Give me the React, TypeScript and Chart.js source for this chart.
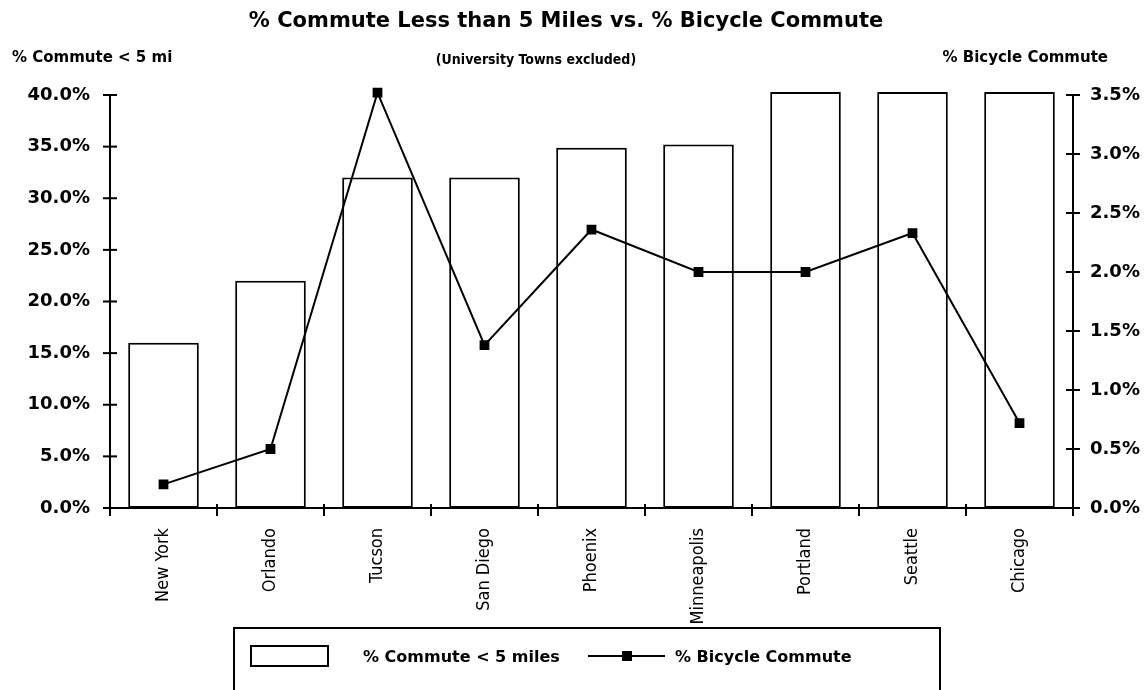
import React, { useEffect, useRef } from "react";
import { Chart, registerables } from "chart.js";

Chart.register(...registerables);

// ---- data ----
const categories = ["New York", "Orlando", "Tucson", "San Diego", "Phoenix", "Minneapolis", "Portland", "Seattle", "Chicago"];
const commuteUnder5 = [16.0, 22.0, 32.0, 32.0, 34.9, 35.2, 40.3, 40.3, 40.3];
const bicycleCommute = [0.2, 0.5, 3.52, 1.38, 2.36, 2.0, 2.0, 2.33, 0.72];
const leftAxisMax = 40;
const leftAxisStep = 5;
const rightAxisMax = 3.5;
const rightAxisStep = 0.5;

const titleText = "% Commute Less than 5 Miles vs. % Bicycle Commute";
const subtitleText = "(University Towns excluded)";
const leftAxisTitle = "% Commute < 5 mi";
const rightAxisTitle = "% Bicycle Commute";
const barLabel = "% Commute < 5 miles";
const lineLabel = "% Bicycle Commute";

const BOLD = '"DejaVu Sans", "Liberation Sans", sans-serif';
const NARROW = '"Liberation Sans Narrow", "DejaVu Sans Condensed", "Liberation Sans", sans-serif';

const decorPlugin = {
  id: "decor",
  afterDraw(chart: any) {
    const ctx = chart.ctx as CanvasRenderingContext2D;
    const { x, y, y1 } = chart.scales;
    ctx.save();
    ctx.fillStyle = "#000";
    ctx.strokeStyle = "#000";
    ctx.lineWidth = 2;

    // axis tick marks crossing the axis lines
    const drawYTicks = (scale: any, axisX: number) => {
      scale.ticks.forEach((t: any) => {
        const py = scale.getPixelForValue(t.value);
        ctx.beginPath();
        ctx.moveTo(axisX - 7, py);
        ctx.lineTo(axisX + 7, py);
        ctx.stroke();
      });
    };
    drawYTicks(y, chart.chartArea.left);
    drawYTicks(y1, chart.chartArea.right);
    for (let i = 0; i <= categories.length; i++) {
      const px = x.getPixelForValue(i - 0.5);
      ctx.beginPath();
      ctx.moveTo(px, chart.chartArea.bottom - 4);
      ctx.lineTo(px, chart.chartArea.bottom + 8);
      ctx.stroke();
    }

    // title, subtitle, axis titles
    ctx.textBaseline = "middle";
    ctx.textAlign = "center";
    ctx.font = `bold 21px ${BOLD}`;
    ctx.fillText(titleText, 566, 22);
    ctx.font = `bold 14px ${NARROW}`;
    ctx.fillText(subtitleText, 536, 60);
    ctx.font = `bold 15px ${BOLD}`;
    ctx.textAlign = "left";
    ctx.fillText(leftAxisTitle, 12, 58);
    ctx.textAlign = "right";
    ctx.fillText(rightAxisTitle, 1108, 58);

    // legend
    ctx.lineWidth = 2;
    ctx.strokeRect(234, 628, 706, 80);
    ctx.fillStyle = "#fff";
    ctx.fillRect(251, 646, 77, 20);
    ctx.strokeRect(251, 646, 77, 20);
    ctx.fillStyle = "#000";
    ctx.font = `bold 16px ${BOLD}`;
    ctx.textAlign = "left";
    ctx.fillText(chart.data.datasets[0].label, 363, 658);
    ctx.beginPath();
    ctx.moveTo(588, 656);
    ctx.lineTo(665, 656);
    ctx.stroke();
    ctx.fillRect(622, 651, 10, 10);
    ctx.fillText(chart.data.datasets[1].label, 675, 658);
    ctx.restore();
  },
};

export default function App() {
  const ref = useRef<HTMLCanvasElement | null>(null);
  useEffect(() => {
    if (!ref.current) return;
    const chart = new Chart(ref.current, {
      type: "bar",
      data: {
        labels: categories,
        datasets: [
          {
            type: "bar",
            label: barLabel,
            data: commuteUnder5,
            yAxisID: "y",
            backgroundColor: "#ffffff",
            borderColor: "#000000",
            borderWidth: 2,
            borderSkipped: false,
            categoryPercentage: 1,
            barPercentage: 0.66,
            clip: false,
            order: 2,
          } as any,
          {
            type: "line",
            label: lineLabel,
            data: bicycleCommute,
            yAxisID: "y1",
            borderColor: "#000000",
            backgroundColor: "#000000",
            borderWidth: 2,
            pointStyle: "rect",
            pointRadius: 5.5,
            pointBackgroundColor: "#000000",
            pointBorderColor: "#000000",
            tension: 0,
            clip: false,
            order: 1,
          } as any,
        ],
      },
      options: {
        animation: false,
        responsive: true,
        maintainAspectRatio: false,
        layout: { padding: { top: 95, left: 0, right: 0, bottom: 0 } },
        plugins: {
          legend: { display: false },
          title: { display: false },
          tooltip: { enabled: false },
        },
        scales: {
          x: {
            offset: true,
            grid: { display: false },
            border: { display: true, color: "#000", width: 2 },
            ticks: {
              color: "#000",
              minRotation: 90,
              maxRotation: 90,
              padding: 12,
              autoSkip: false,
              font: { family: NARROW, size: 18, weight: "normal" },
            },
            afterFit: (s: any) => {
              s.height = 182;
            },
          },
          y: {
            position: "left",
            min: 0,
            max: leftAxisMax,
            grid: { display: false },
            border: { display: true, color: "#000", width: 2 },
            ticks: {
              stepSize: leftAxisStep,
              color: "#000",
              padding: 12,
              font: { family: BOLD, size: 18, weight: "bold" },
              callback: (v: any) => Number(v).toFixed(1) + "%",
            },
            afterFit: (s: any) => {
              s.width = 110;
            },
          },
          y1: {
            position: "right",
            min: 0,
            max: rightAxisMax,
            grid: { display: false },
            border: { display: true, color: "#000", width: 2 },
            ticks: {
              stepSize: rightAxisStep,
              color: "#000",
              padding: 9,
              font: { family: BOLD, size: 18, weight: "bold" },
              callback: (v: any) => Number(v).toFixed(1) + "%",
            },
            afterFit: (s: any) => {
              s.width = 71;
            },
          },
        },
      } as any,
      plugins: [decorPlugin],
    });
    return () => chart.destroy();
  }, []);

  return (
    <div style={{ position: "absolute", left: 0, top: 0, width: 1144, height: 690, background: "#fff" }}>
      <canvas ref={ref} />
    </div>
  );
}
